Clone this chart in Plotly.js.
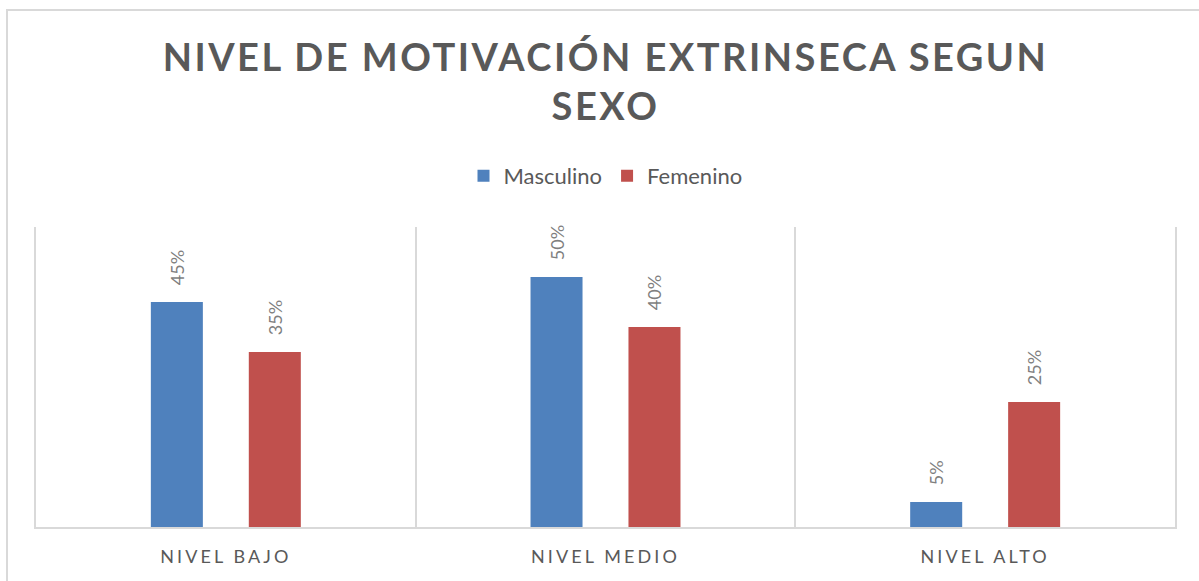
<!DOCTYPE html>
<html>
<head>
<meta charset="utf-8">
<script src="https://cdn.plot.ly/plotly-3.0.1.min.js"></script>
<style>
  html, body { margin: 0; padding: 0; background: #ffffff; }
  #frame { position: absolute; left: 6px; top: 9px; width: 1300px; height: 700px;
           border-top: 2px solid #d9d9d9; border-left: 2px solid #d9d9d9; }
  #chart { position: absolute; left: 0; top: 0; width: 1199px; height: 581px; }
  #chart .gtitle { letter-spacing: 2.5px; }
  #chart .xtick text { letter-spacing: 3.1px; }
</style>
</head>
<body>
<div id="frame"></div>
<div id="chart"></div>
<script>
const categories = ["NIVEL BAJO", "NIVEL MEDIO", "NIVEL ALTO"];
const masculino = [0.45, 0.50, 0.05];
const femenino = [0.35, 0.40, 0.25];
const seriesNames = ["Masculino", "Femenino"];

const labelFont = { family: "Lato, 'Open Sans', sans-serif", size: 18, color: "#7f7f7f" };
const pad = "\u00a0\u00a0\u00a0";

function barTrace(name, values, color) {
  return {
    type: "bar",
    name: name,
    x: categories,
    y: values,
    marker: { color: color, line: { width: 0 } },
    texttemplate: pad + "%{y:.0%}",
    textposition: "outside",
    textangle: -90,
    textfont: labelFont,
    constraintext: "none",
    cliponaxis: false,
    hoverinfo: "x+y+name"
  };
}

const data = [
  barTrace(seriesNames[0], masculino, "#4f81bd"),
  barTrace(seriesNames[1], femenino, "#c0504d")
];

const layout = {
  width: 1199,
  height: 581,
  paper_bgcolor: "rgba(0,0,0,0)",
  plot_bgcolor: "rgba(0,0,0,0)",
  margin: { l: 36, r: 24, t: 227, b: 54 },
  font: { family: "Lato, 'Open Sans', sans-serif", color: "#595959" },
  title: {
    text: "NIVEL DE MOTIVACIÓN EXTRINSECA SEGUN<br>SEXO",
    font: { family: "Lato, 'Open Sans', sans-serif", size: 38, color: "#595959", weight: "bold" },
    x: 0.5, xanchor: "center",
    xref: "paper",
    y: 0.878, yanchor: "top", yref: "container"
  },
  showlegend: true,
  legend: {
    orientation: "h",
    x: 0.5, xanchor: "center",
    y: 1.17, yanchor: "middle",
    font: { family: "Lato, 'Open Sans', sans-serif", size: 22, color: "#595959" },
    itemwidth: 30,
    bgcolor: "rgba(0,0,0,0)"
  },
  barmode: "group",
  bargap: 0.484,
  bargroupgap: 0.469,
  xaxis: {
    type: "category",
    range: [-0.5, 2.5],
    tickson: "boundaries",
    showgrid: true,
    gridcolor: "#d9d9d9",
    gridwidth: 2,
    showline: true,
    linecolor: "#d9d9d9",
    linewidth: 2,
    ticks: "",
    tickfont: { family: "Lato, 'Open Sans', sans-serif", size: 18, color: "#595959" },
    ticklabelstandoff: 12,
    fixedrange: true
  },
  yaxis: {
    range: [0, 0.6],
    showgrid: false,
    zeroline: false,
    showticklabels: false,
    showline: true,
    mirror: true,
    linecolor: "#d9d9d9",
    linewidth: 2,
    ticks: "",
    fixedrange: true
  }
};

Plotly.newPlot("chart", data, layout, { displayModeBar: false, staticPlot: true });
</script>
</body>
</html>
